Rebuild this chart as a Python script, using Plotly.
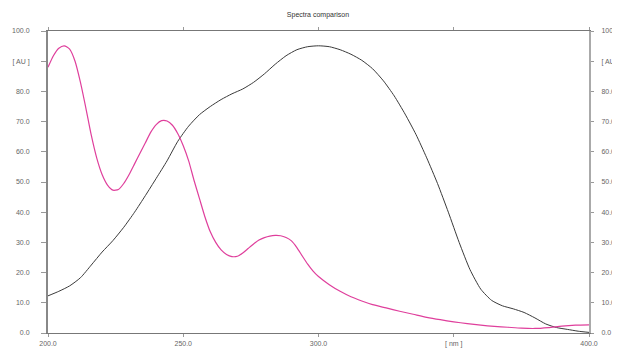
import plotly.graph_objects as go

wl_magenta = [200, 202, 204, 206, 208, 210, 212, 214, 216, 218, 220, 222, 224, 226, 228, 230,
              232, 234, 236, 238, 240, 242, 244, 246, 248, 250, 252, 254, 256, 258, 260, 262,
              264, 266, 268, 270, 272, 274, 276, 278, 280, 282, 284, 286, 288, 290, 292, 294,
              296, 298, 300, 304, 308, 312, 316, 320, 325, 330, 335, 340, 345, 350, 355, 360,
              365, 370, 375, 380, 385, 390, 395, 400]
au_magenta = [88, 91.8, 94.3, 95.1, 94, 90, 83, 74.5, 65.5, 58, 52.5, 49, 47.3, 47.5, 49.5, 52.5,
              56, 59.5, 63, 66.5, 69, 70.3, 70.2, 68.8, 66, 62, 57, 50.5, 44.5, 38.5, 33.5, 30,
              27.5, 26, 25.3, 25.4, 26.5, 28, 29.5, 30.8, 31.6, 32.1, 32.3, 32.2, 31.6, 30.5, 28.3, 25.5,
              22.8, 20.5, 18.7, 16, 13.8, 12, 10.6, 9.4, 8.3, 7.2, 6.2, 5.2, 4.4, 3.7, 3.1, 2.6,
              2.2, 1.9, 1.6, 1.5, 1.8, 2.3, 2.6, 2.7]

wl_black = [200, 204, 208, 212, 216, 220, 224, 228, 232, 236, 240, 244, 248, 252, 256, 260,
            264, 268, 272, 276, 280, 284, 288, 292, 296, 300, 304, 308, 312, 316, 320, 324,
            328, 332, 336, 340, 344, 348, 352, 356, 360, 364, 368, 372, 376, 380, 384, 388,
            392, 396, 400]
au_black = [12.3, 13.8, 15.6, 18.3, 22.5, 26.8, 30.6, 35, 40, 45.5, 51.2, 57, 63.5, 68.5, 72.3, 75,
            77.3, 79.2, 80.8, 83, 85.8, 89, 91.8, 93.8, 94.8, 95.1, 94.8, 93.8, 92.3, 90.3, 87.5, 83.5,
            78.5, 72.5, 65.8, 58, 49.5, 40, 30, 21, 14.5, 10.8, 9, 8, 6.8, 5, 3, 1.8,
            1.2, 0.6, 0.2]

x_tickvals = [200, 250, 300, 350, 400]
x_ticktext = ["200.0", "250.0", "300.0", "[ nm ]", "400.0"]
y_tickvals = [0, 10, 20, 30, 40, 50, 60, 70, 80, 90, 100]
y_ticktext = ["0.0", "10.0", "20.0", "30.0", "40.0", "50.0", "60.0", "70.0", "80.0", "[ AU ]", "100.0"]

font = dict(family="Liberation Sans, Arial, sans-serif", size=7, color="#666666")

W, H = 612, 340  # page body has an 8px margin
fig = go.Figure()
fig.add_trace(go.Scatter(x=wl_black, y=au_black, mode="lines",
                         line=dict(color="#3a3a3a", width=1, shape="spline", smoothing=0.6),
                         showlegend=False, hoverinfo="skip"))
fig.add_trace(go.Scatter(x=wl_magenta, y=au_magenta, mode="lines",
                         line=dict(color="#df3f9c", width=1.2, shape="spline", smoothing=0.6),
                         showlegend=False, hoverinfo="skip"))
# invisible trace to activate the right axis
fig.add_trace(go.Scatter(x=[200], y=[0], yaxis="y2", mode="markers",
                         marker=dict(opacity=0), showlegend=False, hoverinfo="skip"))

fig.update_layout(
    width=W, height=H,
    margin=dict(l=40, r=31, t=23, b=15),
    paper_bgcolor="white", plot_bgcolor="white",
    font=font,
    title=dict(text="Spectra comparison", x=310 / W, xanchor="center",
               y=1 - 7 / H, yanchor="middle", font=dict(family=font["family"], size=7, color="#333333")),
    xaxis=dict(range=[200, 400], tickvals=x_tickvals, ticktext=x_ticktext, automargin=False,
               showgrid=False, zeroline=False, showline=True, linecolor="#777777", linewidth=1.2,
               mirror="ticks", ticks="outside", ticklen=3, tickcolor="#999999",
               tickfont=font),
    yaxis=dict(range=[0, 100], tickvals=y_tickvals, ticktext=y_ticktext, automargin=False,
               showgrid=False, zeroline=False, showline=True, linecolor="#888888", linewidth=2,
               ticks="outside", ticklen=5, tickcolor="#999999", ticklabelstandoff=10,
               tickfont=font),
    yaxis2=dict(range=[0, 100], tickvals=y_tickvals, ticktext=y_ticktext, overlaying="y", side="right",
                automargin=False,
                showgrid=False, zeroline=False, showline=True, linecolor="#aaaaaa", linewidth=2,
                ticks="outside", ticklen=3, tickcolor="#999999", ticklabelstandoff=6,
                tickfont=font),
)

fig.write_html("out.html")
